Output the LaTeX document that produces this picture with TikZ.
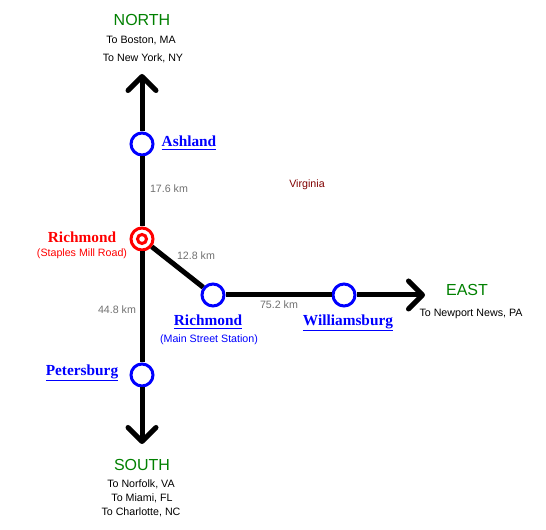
\documentclass[tikz,border=0pt]{standalone}
\usepackage{fontspec}
\setmainfont{Liberation Sans}
\newfontfamily\serifbold[Scale=1.0]{Liberation Serif}
\usetikzlibrary{arrows.meta}
\definecolor{dirgreen}{HTML}{008000}
\definecolor{kmgray}{HTML}{707070}
\definecolor{statered}{HTML}{800000}
\tikzset{
  track/.style={line width=3.75pt},
  trackend/.style={track,-{Straight Barb[length=10.5pt,width=21pt,line width=3.75pt,round]},shorten >=1.5pt},
  station/.style={circle,draw=blue,line width=2.25pt,fill=white,minimum size=16.5pt,inner sep=0pt},
  hub/.style={station,draw=red},
  hubcore/.style={circle,draw=red,line width=2.25pt,fill=white,minimum size=6.8pt,inner sep=0pt},
  city/.style={font=\serifbold\bfseries\fontsize{11.5}{13}\selectfont,inner sep=0pt},
  small/.style={font=\fontsize{8}{10}\selectfont,inner sep=0pt},
  direction/.style={font=\fontsize{12}{14}\selectfont,text=dirgreen,inner sep=0pt},
  km/.style={small,text=kmgray}
}
\begin{document}
\begin{tikzpicture}[x=0.75pt,y=-0.75pt]
  \useasboundingbox (0,0) rectangle (546,530);
  % stations
  \node[station] (ashland) at (142,144) {};
  \node[hub] (staples) at (142,239) {};
  \node[hubcore] (staplescore) at (142,239) {};
  \node[station] (mainst) at (213,295) {};
  \node[station] (williamsburg) at (344,295) {};
  \node[station] (petersburg) at (142,375) {};
  \coordinate (northend) at (142,72);
  \coordinate (southend) at (142,446);
  \coordinate (eastend) at (427,295);
  % track
  \draw[trackend] (ashland) -- (northend);
  \draw[track] (ashland) -- (staples);
  \draw[track] (staples) -- (petersburg);
  \draw[trackend] (petersburg) -- (southend);
  \draw[track] (staples) -- (mainst);
  \draw[track] (mainst) -- (williamsburg);
  \draw[trackend] (williamsburg) -- (eastend);
  % directions
  \node[direction] (north) at (142,20) {NORTH};
  \node[small] (boston) at (141,41) {To Boston, MA};
  \node[small] (newyork) at (143,58) {To New York, NY};
  \node[direction] (east) at (467,290) {EAST};
  \node[small] (newport) at (471,314) {To Newport News, PA};
  \node[direction] (south) at (142,465) {SOUTH};
  \node[small] (norfolk) at (141,484) {To Norfolk, VA};
  \node[small] (miami) at (142,498) {To Miami, FL};
  \node[small] (charlotte) at (141,512) {To Charlotte, NC};
  % station labels
  \node[city,text=blue] (ashlandlabel) at (189,143) {\underline{Ashland}};
  \node[city,text=red] (richmondred) at (82,237) {Richmond};
  \node[small,text=red] (stapleslabel) at (82,254) {(Staples Mill Road)};
  \node[city,text=blue] (richmondblue) at (208,322) {\underline{Richmond}};
  \node[small,text=blue] (mainstlabel) at (209,340) {(Main Street Station)};
  \node[city,text=blue] (petersburglabel) at (82,373) {\underline{Petersburg}};
  \node[city,text=blue] (williamsburglabel) at (348,323) {\underline{Williamsburg}};
  % distances
  \node[km] (kma) at (169,189) {17.6 km};
  \node[km] (kmb) at (196,256) {12.8 km};
  \node[km] (kmc) at (117,310) {44.8 km};
  \node[km] (kmd) at (279,305) {75.2 km};
  \node[small,text=statered] (virginia) at (307,185) {Virginia};
\end{tikzpicture}
\end{document}
